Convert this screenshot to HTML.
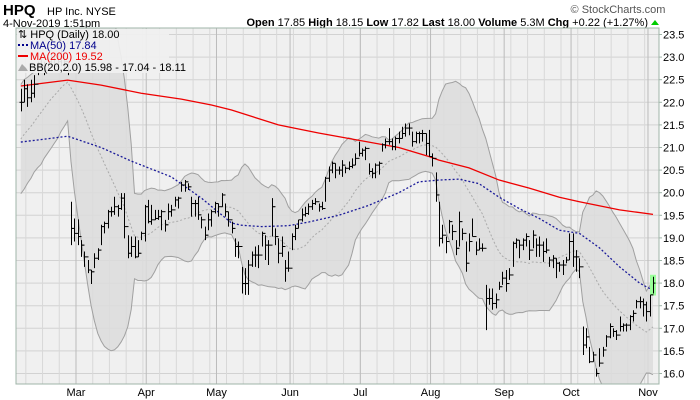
<!DOCTYPE html>
<html><head><meta charset="utf-8"><style>
body{margin:0;background:#fff;width:700px;height:400px;overflow:hidden;font-family:"Liberation Sans",sans-serif}
svg{display:block}
</style></head><body>
<svg id="chart" width="700" height="400" xmlns="http://www.w3.org/2000/svg" font-family="Liberation Sans, sans-serif">
<g>
<text x="3" y="15" font-size="15" font-weight="bold">HPQ</text>
<text x="47" y="15" font-size="11">HP Inc. NYSE</text>
<text x="3" y="27" font-size="11">4-Nov-2019 1:51pm</text>
<text x="618" y="13" font-size="11" fill="#555" text-anchor="middle">© StockCharts.com</text>
<text x="648" y="26" font-size="11" text-anchor="end"><tspan font-weight="bold">Open</tspan> 17.85 <tspan font-weight="bold">High</tspan> 18.15 <tspan font-weight="bold">Low</tspan> 17.82 <tspan font-weight="bold">Last</tspan> 18.00 <tspan font-weight="bold">Volume</tspan> 5.3M <tspan font-weight="bold">Chg</tspan> +0.22 (+1.27%)</text>
<polygon points="651,25 659,25 655,20" fill="#0c0"/>
</g>
<rect x="16" y="28" width="643" height="356" fill="#f0f0f0"/>
<g id="grid"></g>
<g id="bb"></g>
<g id="mas"></g>
<g id="bars"></g>
<rect x="16" y="28" width="643" height="356" fill="none" stroke="#9fb5a8"/>
<g id="axes"></g>
<g font-size="11">
<rect x="17" y="29" width="152" height="44" fill="#f0f0f0" opacity="0.92"/>
<text x="18" y="38">⇅ HPQ (Daily) 18.00</text>
<line x1="18" y1="45" x2="28" y2="45" stroke="#00008b" stroke-width="2" stroke-dasharray="2,2"/>
<text x="30" y="49" fill="#00008b">MA(50) 17.84</text>
<line x1="18" y1="56" x2="28" y2="56" stroke="#e00" stroke-width="2"/>
<text x="30" y="60" fill="#e00">MA(200) 19.52</text>
<polygon points="18,71 22,64 26,68 28,71" fill="#aaa"/>
<text x="29" y="71">BB(20,2.0) 15.98 - 17.04 - 18.11</text>
</g>
</svg>
<script>
// ---- data ----
const priorCloses=[20.2,20.3,20.5,20.4,20.6,20.8,20.7,20.9,21.0,21.2,21.3,21.2,21.5,21.6,21.7,21.8,21.9,22.0,22.1];
const highs=[22.3,22.5,22.4,22.5,22.6,22.9,23.0,22.9,23.0,23.1,23.0,23.1,23.2,23.1,22.9,
19.80,19.43,19.41,18.95,18.70,18.51,18.29,18.66,18.77,19.29,19.36,19.62,19.69,19.91,19.73,19.99,19.99,19.06,19.03,19.03,18.95,19.14,
19.73,19.84,19.73,19.62,19.62,19.62,19.40,19.76,19.73,19.91,19.91,20.24,20.28,20.21,19.91,19.84,19.91,19.47,19.25,19.54,19.62,
19.80,19.76,19.99,19.76,19.58,19.36,18.99,18.92,18.36,18.33,18.51,18.70,18.81,18.84,19.14,19.06,18.95,19.88,19.21,18.99,19.03,18.51,
18.70,19.10,19.29,19.40,19.65,19.69,19.76,19.84,19.88,19.76,19.80,20.35,20.58,20.69,20.65,20.58,20.72,20.58,20.69,20.76,20.87,
21.13,20.98,21.02,20.65,20.54,20.65,20.69,21.09,21.20,21.43,21.20,21.24,21.35,21.46,21.53,21.53,21.35,21.35,21.35,21.39,21.31,21.39,
20.87,20.45,19.80,19.29,19.03,19.40,19.29,18.95,19.58,19.21,18.92,19.10,19.43,18.92,18.99,18.88,17.96,17.88,17.88,17.77,18.03,18.25,
18.29,18.33,18.92,18.99,18.95,18.99,19.10,18.95,19.17,18.99,19.03,18.92,18.99,18.58,18.62,18.55,18.47,18.51,18.58,
19.10,19.10,18.73,18.55,17.04,17.00,16.59,16.48,16.11,16.56,16.59,16.85,17.11,17.00,16.96,17.26,17.11,17.11,17.29,17.40,17.63,17.70,17.66,17.59,17.74,18.14];
const lows=[21.8,22.0,21.9,22.0,22.1,22.6,22.7,22.6,22.7,22.8,22.7,22.8,22.8,22.7,22.6,
18.84,18.92,18.84,18.58,18.36,18.22,17.98,18.33,18.51,18.84,19.10,19.21,19.47,19.51,19.47,19.62,18.99,18.55,18.58,18.55,18.58,18.95,
18.92,19.32,19.29,19.40,19.40,19.17,19.14,19.40,19.47,19.69,19.65,20.02,20.02,20.06,19.47,19.47,19.40,19.21,18.95,19.17,19.25,
19.54,19.47,19.69,19.47,19.25,19.10,18.58,18.55,17.77,17.74,17.74,18.36,18.36,18.33,18.81,18.51,18.40,19.03,18.84,18.44,18.58,18.03,
18.25,18.73,18.95,19.21,19.36,19.47,19.51,19.62,19.73,19.58,19.62,19.80,20.24,20.43,20.32,20.40,20.35,20.43,20.50,20.54,20.61,
20.80,20.80,20.72,20.40,20.32,20.32,20.40,20.91,20.98,21.06,20.94,20.94,21.09,21.20,21.24,21.27,21.02,21.09,21.09,21.13,20.83,20.80,
20.58,19.80,18.81,18.88,18.66,19.10,18.95,18.62,18.81,18.95,18.25,18.70,19.03,18.62,18.73,18.70,16.96,17.52,17.41,17.44,17.85,17.96,
17.81,18.07,18.36,18.77,18.55,18.73,18.81,18.51,18.77,18.58,18.58,18.47,18.66,18.36,18.33,18.11,18.25,18.18,18.44,
18.51,18.36,18.25,18.11,16.41,16.56,16.23,16.26,15.93,16.15,16.37,16.59,16.78,16.81,16.74,16.93,16.93,16.93,16.96,17.15,17.44,17.44,17.26,17.15,17.26,17.77];
const closes=[22.0,22.3,22.1,22.2,22.4,22.7,22.8,22.7,22.9,23.0,22.8,22.9,23.0,22.9,22.7,
19.21,19.10,19.03,18.84,18.58,18.29,18.25,18.55,18.73,19.25,19.32,19.58,19.58,19.69,19.65,19.88,19.25,18.66,18.81,18.58,18.66,19.10,
19.69,19.36,19.40,19.43,19.47,19.58,19.29,19.58,19.62,19.84,19.88,20.17,20.24,20.13,19.76,19.76,19.51,19.40,19.06,19.40,19.58,
19.76,19.69,19.95,19.58,19.40,19.21,18.81,18.81,17.99,17.99,18.40,18.62,18.62,18.62,19.10,18.84,18.84,19.69,19.03,18.66,18.81,18.33,
18.33,19.03,19.21,19.40,19.51,19.54,19.69,19.76,19.80,19.69,19.65,20.32,20.50,20.65,20.50,20.50,20.61,20.54,20.58,20.61,20.76,
20.87,20.94,20.98,20.47,20.43,20.61,20.65,21.06,21.13,21.13,21.02,21.20,21.20,21.31,21.43,21.43,21.13,21.31,21.31,21.31,21.09,20.80,
20.76,19.95,18.99,19.06,18.92,19.36,19.14,18.77,19.36,19.10,18.44,18.92,19.03,18.73,18.77,18.77,17.66,17.66,17.55,17.63,17.92,18.11,
17.99,18.18,18.88,18.95,18.84,18.95,19.03,18.73,19.06,18.84,18.84,18.70,18.73,18.51,18.55,18.44,18.40,18.40,18.51,
18.92,18.58,18.58,18.36,16.63,16.81,16.26,16.41,16.00,16.23,16.52,16.81,17.04,16.93,16.85,17.04,17.07,17.07,17.26,17.33,17.59,17.59,17.52,17.37,17.74,18.00];
const ma50Idx=[0,14,24,33,45,54,63,66,72,80,86,95,104,113,119,125,131,137,143,149,155,161,167,173,179,185,189];
const ma50Val=[21.12,21.25,21.0,20.7,20.35,19.88,19.33,19.28,19.25,19.27,19.35,19.5,19.72,20.0,20.24,20.28,20.3,20.2,19.9,19.65,19.43,19.17,19.1,18.78,18.36,18.0,17.84];
const ma200Idx=[0,14,24,36,48,57,63,77,89,101,113,122,125,134,143,152,161,167,179,189];
const ma200Val=[22.36,22.49,22.38,22.2,22.07,21.94,21.83,21.5,21.32,21.16,21.0,20.8,20.72,20.55,20.28,20.1,19.9,19.8,19.62,19.52];
const yTicks=[16.0,16.5,17.0,17.5,18.0,18.5,19.0,19.5,20.0,20.5,21.0,21.5,22.0,22.5,23.0,23.5];
const monthLabels=["Mar","Apr","May","Jun","Jul","Aug","Sep","Oct","Nov"];
const monthIdx=[17,38,59,81,102,123,145,165,188];

// ---- scales ----
const NS='http://www.w3.org/2000/svg';
function xOf(i){return 20.8+3.345*i;}
function yOf(v){return 373.5-(v-16)*45.2;}
function mk(tag,attrs,parent){const e=document.createElementNS(NS,tag);for(const k in attrs)e.setAttribute(k,attrs[k]);parent.appendChild(e);return e;}
const grid=document.getElementById('grid'),axes=document.getElementById('axes');

yTicks.forEach(v=>{
  const l=mk('line',{x1:16,x2:659,y1:yOf(v),y2:yOf(v),stroke:'#d2d2d2'},grid);
  
  
  const t=mk('line',{x1:659,x2:662,y1:yOf(v),y2:yOf(v),stroke:'#9fb5a8'},axes);
  
  
  const tx=mk('text',{x:663,y:yOf(v)+4,'font-size':11},axes);
  tx.textContent=v.toFixed(1);
  
  
});
for(let i=2;i<closes.length;i+=5){
  const x=xOf(i-0.5);
  const l=mk('line',{x1:x,x2:x,y1:28,y2:384,stroke:'#d8d8d8'},grid);
  
  
}
monthIdx.forEach((m,k)=>{
  const x=xOf(m-0.5);
  const l=mk('line',{x1:x,x2:x,y1:28,y2:384,stroke:'#bbb'},grid);
  
  
  const t=mk('text',{x:x,y:396,'font-size':11,'text-anchor':'middle'},axes);
  t.textContent=monthLabels[k];
  
  
});

const all=priorCloses.concat(closes),off=priorCloses.length;
const up=[],lo=[],mid=[];
for(let i=0;i<closes.length;i++){
  const w=all.slice(i+off-19,i+off+1);
  const m=w.reduce((a,b)=>a+b,0)/w.length;
  const sd=Math.sqrt(w.reduce((a,b)=>a+(b-m)*(b-m),0)/w.length);
  mid.push(m);up.push(m+2*sd);lo.push(m-2*sd);
}
const bbG=document.getElementById('bb');
let poly=up.map((v,i)=>xOf(i)+','+yOf(v)).join(' ')+' '+lo.map((v,i)=>xOf(i)+','+yOf(v)).reverse().join(' ');
const cp=mk('clipPath',{id:'clip'},bbG);mk('rect',{x:16,y:28,width:643,height:356},cp);
const g2=mk('g',{'clip-path':'url(#clip)'},bbG);
const band=mk('polygon',{points:poly,fill:'#dcdcdc','fill-opacity':0.85},g2);


const bu=mk('polyline',{points:up.map((v,i)=>xOf(i)+','+yOf(v)).join(' '),fill:'none',stroke:'#a0a0a0'},g2);


const bl=mk('polyline',{points:lo.map((v,i)=>xOf(i)+','+yOf(v)).join(' '),fill:'none',stroke:'#a0a0a0'},g2);


const bm=mk('polyline',{points:mid.map((v,i)=>xOf(i)+','+yOf(v)).join(' '),fill:'none',stroke:'#aaa','stroke-dasharray':'2,2'},g2);



const maG=document.getElementById('mas');
const m200=mk('polyline',{points:ma200Idx.map((d,k)=>xOf(d)+','+yOf(ma200Val[k])).join(' '),fill:'none',stroke:'#e00','stroke-width':1.3},maG);


const m50=mk('polyline',{points:ma50Idx.map((d,k)=>xOf(d)+','+yOf(ma50Val[k])).join(' '),fill:'none',stroke:'#1a1a99','stroke-width':1.3,'stroke-dasharray':'2,2'},maG);



const barG=document.getElementById('bars');
const last=closes.length-1;
const hl=mk('rect',{x:xOf(last)-3,y:yOf(highs[last])-2,width:6,height:yOf(lows[last])-yOf(highs[last])+4,fill:'#9f9'},barG);


closes.forEach((c,i)=>{
  const x=Math.round(xOf(i))+0.5;
  const o=i>0?closes[i-1]:c;
  const g=mk('g',{stroke:'#000','stroke-width':1},barG);
  
  
  mk('line',{x1:x,x2:x,y1:yOf(highs[i]),y2:yOf(lows[i])},g);
  mk('line',{x1:x-2,x2:x,y1:yOf(o),y2:yOf(o)},g);
  mk('line',{x1:x,x2:x+2,y1:yOf(c),y2:yOf(c)},g);
});
</script>
</body></html>
